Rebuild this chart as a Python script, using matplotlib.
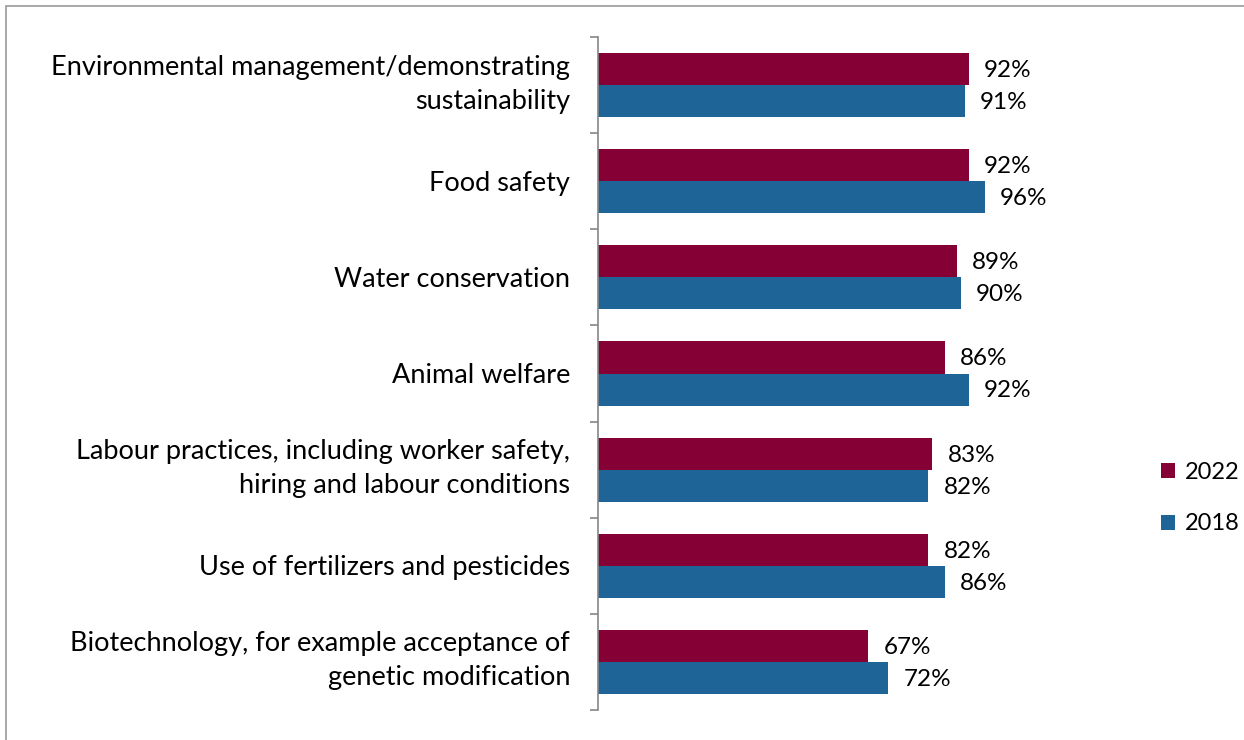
import matplotlib
matplotlib.use("Agg")
import matplotlib.pyplot as plt
import matplotlib.transforms as mtransforms
from matplotlib.patches import Rectangle
import numpy as np

categories = [
    "Environmental management/demonstrating\nsustainability",
    "Food safety",
    "Water conservation",
    "Animal welfare",
    "Labour practices, including worker safety,\nhiring and labour conditions",
    "Use of fertilizers and pesticides",
    "Biotechnology, for example acceptance of\ngenetic modification",
]
vals_2022 = [92, 92, 89, 86, 83, 82, 67]
vals_2018 = [91, 96, 90, 92, 82, 86, 72]

c22 = "#840035"
c18 = "#1F6496"
plt.rcParams["font.family"] = ["Lato", "DejaVu Sans"]

fig = plt.figure(figsize=(12.44, 7.4), dpi=100)
ax = fig.add_axes([598 / 1244, 1 - 710 / 740, 403 / 1244, 673 / 740])

y = np.arange(len(categories))
h = 0.333
b22 = ax.barh(y - h / 2, vals_2022, height=h, color=c22, label="2022")
b18 = ax.barh(y + h / 2, vals_2018, height=h, color=c18, label="2018")
for bars, vals in ((b22, vals_2022), (b18, vals_2018)):
    for bar, v in zip(bars, vals):
        ax.annotate(f"{v}%", (v, bar.get_y() + bar.get_height() / 2),
                    xytext=(11, -1), textcoords="offset points",
                    va="center", ha="left", fontsize=17.5)

ax.set_xlim(0, 100)
ax.set_ylim(len(categories) - 0.5, -0.5)

# category labels as text so the two-line ones can be placed like the original
trans = mtransforms.blended_transform_factory(ax.transAxes, ax.transData)
for yi, cat in zip(y, categories):
    dy = 1 if "\n" in cat else -2
    ax.annotate(cat, (0, yi), xycoords=trans, xytext=(-28, dy), textcoords="offset pixels",
                ha="right", va="center", fontsize=19.5, linespacing=1.45,
                annotation_clip=False)

ax.set_yticks([])
ax.set_yticks(np.arange(-0.5, len(categories)), minor=True)
ax.tick_params(axis="y", which="minor", length=6, color="#868686", width=1.2)
ax.set_xticks([])
for s in ("top", "right", "bottom"):
    ax.spines[s].set_visible(False)
ax.spines["left"].set_color("#868686")
ax.spines["left"].set_linewidth(1.2)

fig.legend(handles=[b22, b18], loc="center left", bbox_to_anchor=(1140 / 1244, 1 - 498 / 740),
           frameon=False, fontsize=17, handlelength=0.6, handleheight=0.6,
           handletextpad=0.4, labelspacing=1.3)

fig.patches.append(Rectangle((6 / 1244, -0.05), 1.2, 1 - 6 / 740 + 0.05,
                             transform=fig.transFigure, fill=False,
                             edgecolor="#999999", linewidth=1.2))

fig.savefig("out.png", dpi=100)
